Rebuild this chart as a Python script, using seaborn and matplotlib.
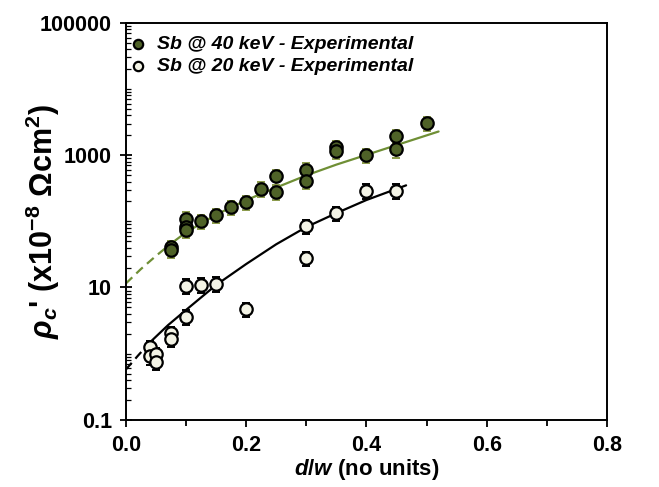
import numpy as np
import pandas as pd
import matplotlib
matplotlib.use("Agg")
import matplotlib.pyplot as plt
from matplotlib.ticker import LogLocator, FixedLocator, NullFormatter, FuncFormatter
import seaborn as sns

# ---------------- data ----------------
x_40 = [0.075, 0.075, 0.1, 0.1, 0.1, 0.125, 0.15, 0.175, 0.2, 0.225,
        0.25, 0.25, 0.3, 0.3, 0.35, 0.35, 0.4, 0.45, 0.45, 0.5]
y_40 = [41, 37, 110, 83, 75, 101, 124, 165, 196, 311,
        477, 278, 600, 405, 1320, 1170, 1000, 1950, 1230, 3050]

x_20 = [0.04, 0.04, 0.05, 0.05, 0.075, 0.075, 0.1, 0.1, 0.125, 0.15,
        0.2, 0.3, 0.3, 0.35, 0.4, 0.45]
y_20 = [1.26, 0.91, 0.99, 0.75, 2.05, 1.69, 10.6, 3.6, 11.0, 11.4,
        4.7, 85, 28, 133, 290, 290]

rel_err = 0.25  # relative uncertainty of the measurements

fit40_x = [0.0, 0.025, 0.05, 0.075, 0.1, 0.15, 0.2, 0.25, 0.3, 0.35, 0.4, 0.45, 0.52]
fit40_y = [11.5, 19, 30, 46, 68, 126, 209, 324, 495, 720, 1010, 1420, 2280]
fit40_split = 0.075

fit20_x = [0.0, 0.02, 0.04, 0.07, 0.1, 0.15, 0.2, 0.25, 0.3, 0.35, 0.4, 0.466]
fit20_y = [0.575, 0.93, 1.48, 2.69, 4.57, 10.9, 22.6, 45, 82, 133, 210, 350]
fit20_split = 0.04

label_40 = "Sb @ 40 keV - Experimental"
label_20 = "Sb @ 20 keV - Experimental"

x_ticks = [0.0, 0.2, 0.4, 0.6, 0.8]
y_ticks = [0.1, 10, 1000, 100000]

# ---------------- style ----------------
sns.set_theme(style="ticks")
plt.rcParams["font.family"] = ["Liberation Sans", "DejaVu Sans"]
plt.rcParams["font.weight"] = "bold"
plt.rcParams["mathtext.fontset"] = "custom"
plt.rcParams["mathtext.rm"] = "Liberation Sans:bold"
plt.rcParams["mathtext.it"] = "Liberation Sans:italic:bold"
plt.rcParams["mathtext.bf"] = "Liberation Sans:bold"
plt.rcParams["mathtext.default"] = "it"
for key in ["text.color", "axes.labelcolor", "xtick.color", "ytick.color",
            "axes.edgecolor"]:
    plt.rcParams[key] = "black"

GREEN_FILL = "#4f6228"
GREEN_LINE = "#6f8f35"
GREEN_ERR = "#8a9a4a"
WHITE_FILL = "#f4f4e6"

fig = plt.figure(figsize=(6.59, 4.87), dpi=100)
ax = fig.add_axes([0.191, 0.138, 0.730, 0.815])

# fit curves
f40 = pd.DataFrame({"x": fit40_x, "y": fit40_y})
f20 = pd.DataFrame({"x": fit20_x, "y": fit20_y})
sns.lineplot(data=f40[f40.x <= fit40_split], x="x", y="y", ax=ax, color=GREEN_LINE,
             lw=1.6, linestyle=(0, (4, 2.5)), zorder=2)
sns.lineplot(data=f40[f40.x >= fit40_split], x="x", y="y", ax=ax, color=GREEN_LINE,
             lw=1.6, zorder=2)
sns.lineplot(data=f20[f20.x <= fit20_split], x="x", y="y", ax=ax, color="black",
             lw=1.6, linestyle=(0, (4, 2.5)), zorder=2)
sns.lineplot(data=f20[f20.x >= fit20_split], x="x", y="y", ax=ax, color="black",
             lw=1.6, zorder=2)

# error bars
y40 = np.array(y_40)
y20 = np.array(y_20)
ax.errorbar(x_40, y_40, yerr=rel_err * y40, fmt="none", ecolor=GREEN_ERR,
            elinewidth=1.4, capsize=3, capthick=1.4, zorder=3)
ax.errorbar(x_20, y_20, yerr=rel_err * y20, fmt="none", ecolor="black",
            elinewidth=1.4, capsize=3, capthick=1.4, zorder=3)

# points
sns.scatterplot(x=x_40, y=y_40, ax=ax, s=80, color=GREEN_FILL, edgecolor="black",
                linewidth=1.6, zorder=4, label=label_40)
sns.scatterplot(x=x_20, y=y_20, ax=ax, s=80, color=WHITE_FILL, edgecolor="black",
                linewidth=1.6, zorder=4, label=label_20)

ax.set_yscale("log")
ax.set_xlim(0, 0.8)
ax.set_ylim(0.1, 100000)

ax.xaxis.set_major_locator(FixedLocator(x_ticks))
ax.xaxis.set_minor_locator(FixedLocator([0.1, 0.3, 0.5, 0.7]))
ax.xaxis.set_major_formatter(FuncFormatter(lambda v, p: f"{v:.1f}"))
ax.yaxis.set_major_locator(FixedLocator(y_ticks))
ax.yaxis.set_minor_locator(LogLocator(base=10, subs=np.arange(1, 10), numticks=20))
ax.yaxis.set_minor_formatter(NullFormatter())
ax.yaxis.set_major_formatter(FuncFormatter(lambda v, p: f"{v:g}"))

ax.tick_params(axis="x", which="major", direction="out", length=5, width=1.3,
               labelsize=15.5, pad=6, colors="black")
ax.tick_params(axis="x", which="minor", direction="out", length=4, width=1.3,
               colors="black")
ax.tick_params(axis="y", which="major", direction="inout", length=8, width=1.3,
               labelsize=15.5, pad=6, colors="black")
ax.tick_params(axis="y", which="minor", direction="in", length=3.5, width=0.9,
               colors="black")
for lab in ax.get_xticklabels() + ax.get_yticklabels():
    lab.set_fontweight("bold")

for sp in ax.spines.values():
    sp.set_visible(True)
    sp.set_linewidth(1.4)
    sp.set_color("black")

ax.set_xlabel(r"$d$/$w$ (no units)", fontsize=16, fontweight="bold")
ax.xaxis.set_label_coords(0.5, -0.095)
ax.set_ylabel(r"$\rho_c$' (x10$^{\mathrm{-8}}$ Ωcm$^{\mathrm{2}}$)", fontsize=22,
              fontweight="bold")
ax.yaxis.set_label_coords(-0.132, 0.5)

leg = ax.legend(loc="upper left", bbox_to_anchor=(0.0, 0.978), frameon=False,
                markerscale=0.75, handletextpad=0.6, borderaxespad=0.0,
                borderpad=0.2, labelspacing=0.2, handlelength=0.8,
                prop={"weight": "bold", "style": "italic", "size": 14})
for t in leg.get_texts():
    t.set_color("black")

fig.savefig("out.png", dpi=100)
